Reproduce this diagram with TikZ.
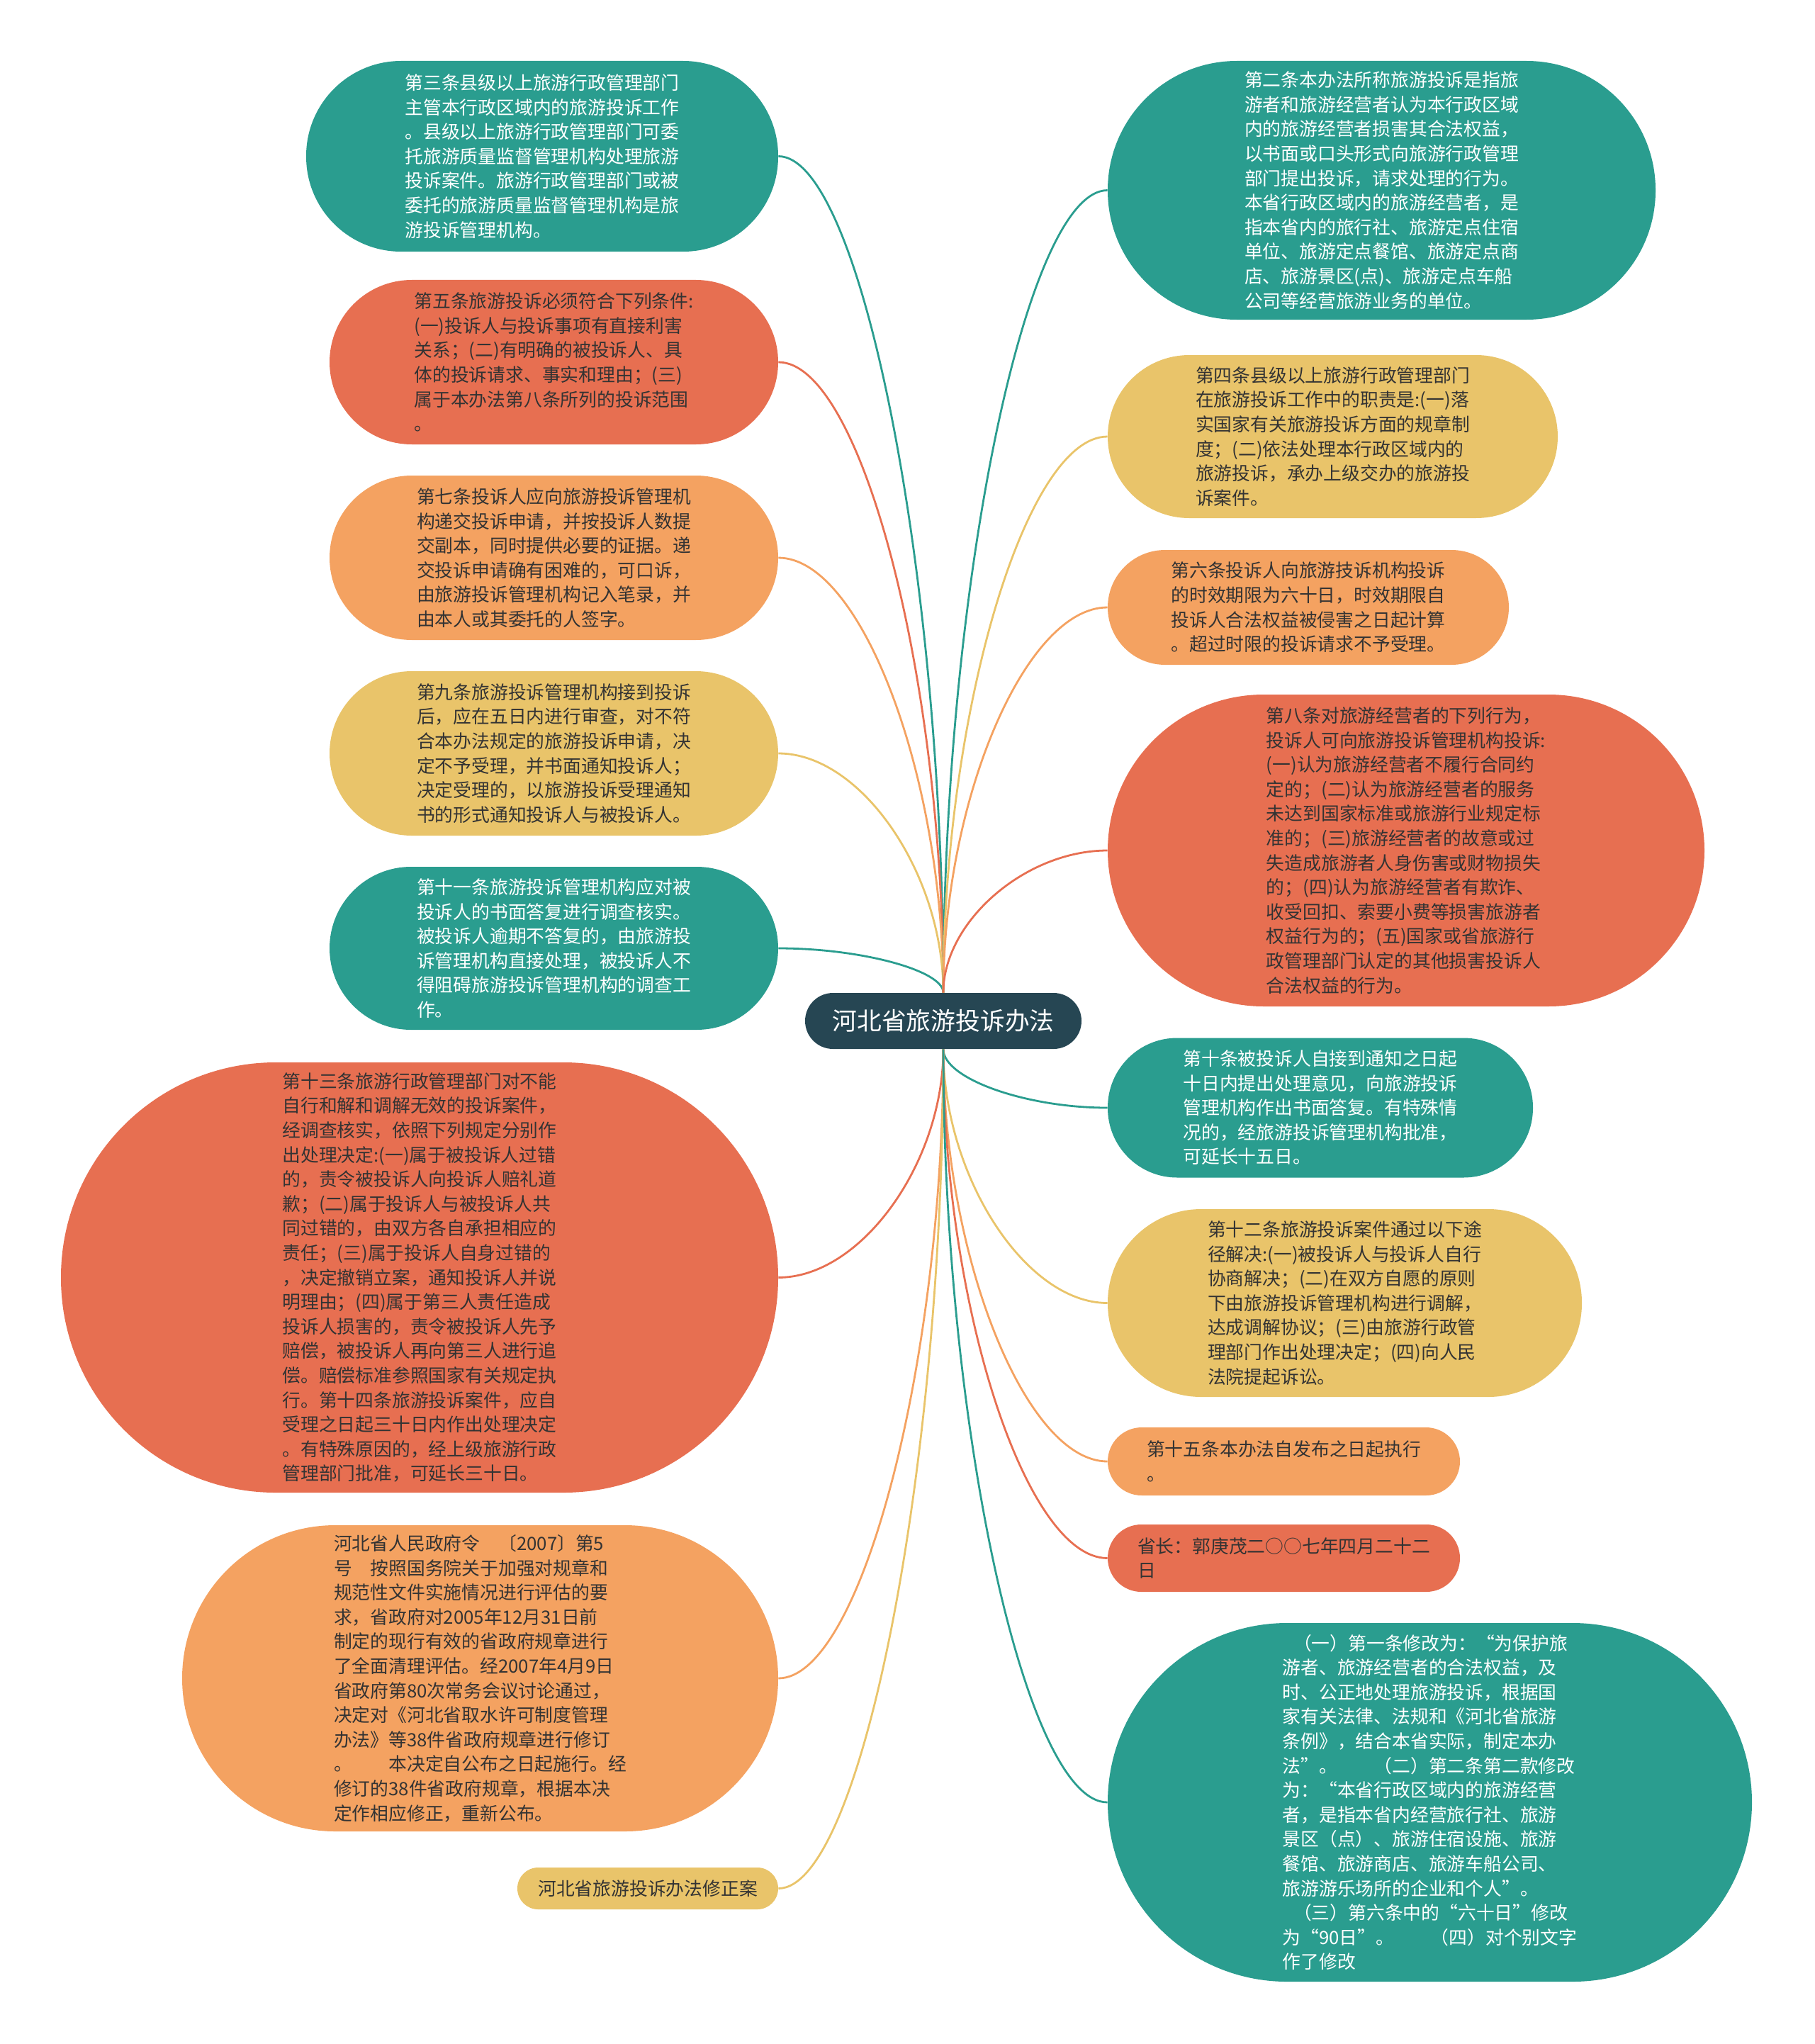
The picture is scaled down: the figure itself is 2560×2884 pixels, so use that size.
\documentclass[tikz,border=0pt]{standalone}
\usepackage{fontspec}
\setmainfont{Noto Sans CJK SC}
\usetikzlibrary{calc}
\definecolor{tealc}{HTML}{2A9D8F}
\definecolor{redc}{HTML}{E76F51}
\definecolor{orangec}{HTML}{F4A261}
\definecolor{yellowc}{HTML}{E9C46A}
\definecolor{navyc}{HTML}{264653}
\definecolor{ink}{HTML}{333333}
\tikzset{
  leaf/.style={rectangle,inner sep=0pt,align=left,text=ink,font=\fontsize{12.9}{17.3}\selectfont},
  pill/.style n args={3}{minimum width=#1,minimum height=#2,rounded corners=#3},
  tealbox/.style={leaf,fill=tealc,text=white},
  redbox/.style={leaf,fill=redc},
  orangebox/.style={leaf,fill=orangec},
  yellowbox/.style={leaf,fill=yellowc},
  link/.style={line width=1.4pt,draw=#1},
  branch/.style={to path={.. controls ($(\tikztostart)!0.5!(\tikztostart|-\tikztotarget)$) and ($(\tikztotarget)!0.5!(\tikztotarget-|\tikztostart)$) .. (\tikztotarget)}}
}
\begin{document}
\begin{tikzpicture}[x=0.5pt,y=-0.5pt]
\useasboundingbox (0,0) rectangle (2560,2884);
\node[rectangle,fill=navyc,text=white,pill={195pt}{39.5pt}{19.7pt},font=\fontsize{17.4}{20}\selectfont] (root) at (1331,1440.5) {河北省旅游投诉办法};
% left side
\node[tealbox,pill={333pt}{134.5pt}{67pt}] (s3) at (765,220.5) {第三条县级以上旅游行政管理部门\\主管本行政区域内的旅游投诉工作\\。县级以上旅游行政管理部门可委\\托旅游质量监督管理机构处理旅游\\投诉案件。旅游行政管理部门或被\\委托的旅游质量监督管理机构是旅\\游投诉管理机构。};
\node[redbox,pill={316.5pt}{116pt}{58pt}] (s5) at (781.5,511) {第五条旅游投诉必须符合下列条件:\\(一)投诉人与投诉事项有直接利害\\关系；(二)有明确的被投诉人、具\\体的投诉请求、事实和理由；(三)\\属于本办法第八条所列的投诉范围\\。};
\node[orangebox,pill={316.5pt}{116pt}{58pt}] (s7) at (781.5,787) {第七条投诉人应向旅游投诉管理机\\构递交投诉申请，并按投诉人数提\\交副本，同时提供必要的证据。递\\交投诉申请确有困难的，可口诉，\\由旅游投诉管理机构记入笔录，并\\由本人或其委托的人签字。};
\node[yellowbox,pill={316.5pt}{116pt}{58pt}] (s9) at (781.5,1063) {第九条旅游投诉管理机构接到投诉\\后，应在五日内进行审查，对不符\\合本办法规定的旅游投诉申请，决\\定不予受理，并书面通知投诉人；\\决定受理的，以旅游投诉受理通知\\书的形式通知投诉人与被投诉人。};
\node[tealbox,pill={316.5pt}{115pt}{57.5pt}] (s11) at (781.5,1338) {第十一条旅游投诉管理机构应对被\\投诉人的书面答复进行调查核实。\\被投诉人逾期不答复的，由旅游投\\诉管理机构直接处理，被投诉人不\\得阻碍旅游投诉管理机构的调查工\\作。};
\node[redbox,pill={506pt}{303.5pt}{151.5pt}] (s13) at (592,1802.5) {第十三条旅游行政管理部门对不能\\自行和解和调解无效的投诉案件，\\经调查核实，依照下列规定分别作\\出处理决定:(一)属于被投诉人过错\\的，责令被投诉人向投诉人赔礼道\\歉；(二)属于投诉人与被投诉人共\\同过错的，由双方各自承担相应的\\责任；(三)属于投诉人自身过错的\\，决定撤销立案，通知投诉人并说\\明理由；(四)属于第三人责任造成\\投诉人损害的，责令被投诉人先予\\赔偿，被投诉人再向第三人进行追\\偿。赔偿标准参照国家有关规定执\\行。第十四条旅游投诉案件，应自\\受理之日起三十日内作出处理决定\\。有特殊原因的，经上级旅游行政\\管理部门批准，可延长三十日。};
\node[orangebox,pill={420.5pt}{216pt}{108pt}] (ling) at (677.5,2368) {河北省人民政府令　〔2007〕第5\\号　按照国务院关于加强对规章和\\规范性文件实施情况进行评估的要\\求，省政府对2005年12月31日前\\制定的现行有效的省政府规章进行\\了全面清理评估。经2007年4月9日\\省政府第80次常务会议讨论通过，\\决定对《河北省取水许可制度管理\\办法》等38件省政府规章进行修订\\。　　本决定自公布之日起施行。经\\修订的38件省政府规章，根据本决\\定作相应修正，重新公布。};
\node[yellowbox,pill={184pt}{29.5pt}{14.7pt}] (xzan) at (914,2664.5) {河北省旅游投诉办法修正案};
% right side
\node[tealbox,pill={386.5pt}{182.5pt}{91pt}] (s2) at (1949.5,268.5) {第二条本办法所称旅游投诉是指旅\\游者和旅游经营者认为本行政区域\\内的旅游经营者损害其合法权益，\\以书面或口头形式向旅游行政管理\\部门提出投诉，请求处理的行为。\\本省行政区域内的旅游经营者，是\\指本省内的旅行社、旅游定点住宿\\单位、旅游定点餐馆、旅游定点商\\店、旅游景区(点)、旅游定点车船\\公司等经营旅游业务的单位。};
\node[yellowbox,pill={317.5pt}{115pt}{57.5pt}] (s4) at (1880.5,616) {第四条县级以上旅游行政管理部门\\在旅游投诉工作中的职责是:(一)落\\实国家有关旅游投诉方面的规章制\\度；(二)依法处理本行政区域内的\\旅游投诉，承办上级交办的旅游投\\诉案件。};
\node[orangebox,pill={283pt}{81pt}{40.5pt}] (s6) at (1846,857) {第六条投诉人向旅游技诉机构投诉\\的时效期限为六十日，时效期限自\\投诉人合法权益被侵害之日起计算\\。超过时限的投诉请求不予受理。};
\node[redbox,pill={421pt}{220pt}{110pt}] (s8) at (1984,1200) {第八条对旅游经营者的下列行为，\\投诉人可向旅游投诉管理机构投诉:\\(一)认为旅游经营者不履行合同约\\定的；(二)认为旅游经营者的服务\\未达到国家标准或旅游行业规定标\\准的；(三)旅游经营者的故意或过\\失造成旅游者人身伤害或财物损失\\的；(四)认为旅游经营者有欺诈、\\收受回扣、索要小费等损害旅游者\\权益行为的；(五)国家或省旅游行\\政管理部门认定的其他损害投诉人\\合法权益的行为。};
\node[tealbox,pill={300pt}{98.5pt}{49pt}] (s10) at (1863,1563) {第十条被投诉人自接到通知之日起\\十日内提出处理意见，向旅游投诉\\管理机构作出书面答复。有特殊情\\况的，经旅游投诉管理机构批准，\\可延长十五日。};
\node[yellowbox,pill={334.5pt}{132.5pt}{66pt}] (s12) at (1897.5,1838.5) {第十二条旅游投诉案件通过以下途\\径解决:(一)被投诉人与投诉人自行\\协商解决；(二)在双方自愿的原则\\下由旅游投诉管理机构进行调解，\\达成调解协议；(三)由旅游行政管\\理部门作出处理决定；(四)向人民\\法院提起诉讼。};
\node[orangebox,pill={248.5pt}{48pt}{24pt}] (s15) at (1811.5,2062) {第十五条本办法自发布之日起执行\\。};
\node[redbox,pill={248.5pt}{47.5pt}{23.7pt}] (shz) at (1811.5,2198.5) {省长：郭庚茂二○○七年四月二十二\\日};
\node[tealbox,pill={454.5pt}{253pt}{126.5pt}] (xg) at (2017.5,2543) {\hspace*{0.6em}（一）第一条修改为：“为保护旅\\游者、旅游经营者的合法权益，及\\时、公正地处理旅游投诉，根据国\\家有关法律、法规和《河北省旅游\\条例》，结合本省实际，制定本办\\法”。　　（二）第二条第二款修改\\为：“本省行政区域内的旅游经营\\者，是指本省内经营旅行社、旅游\\景区（点）、旅游住宿设施、旅游\\餐馆、旅游商店、旅游车船公司、\\旅游游乐场所的企业和个人”。\\\hspace*{0.6em}（三）第六条中的“六十日”修改\\为“90日”。　　（四）对个别文字\\作了修改};
% branches
\foreach \n/\c in {s3/tealc,s5/redc,s7/orangec,s9/yellowc,s11/tealc}
  \draw[link=\c] (root.north) to[branch] (\n.east);
\foreach \n/\c in {s13/redc,ling/orangec,xzan/yellowc}
  \draw[link=\c] (root.south) to[branch] (\n.east);
\foreach \n/\c in {s2/tealc,s4/yellowc,s6/orangec,s8/redc}
  \draw[link=\c] (root.north) to[branch] (\n.west);
\foreach \n/\c in {s10/tealc,s12/yellowc,s15/orangec,shz/redc,xg/tealc}
  \draw[link=\c] (root.south) to[branch] (\n.west);
\end{tikzpicture}
\end{document}
